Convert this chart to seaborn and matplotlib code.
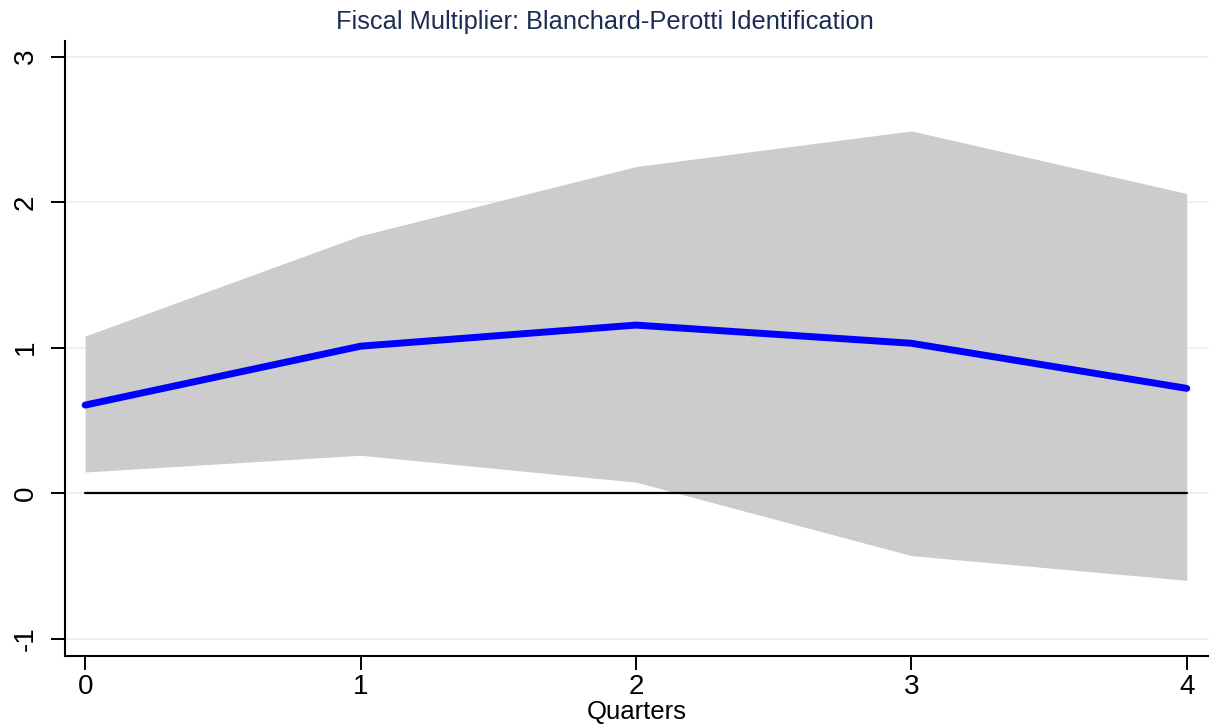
import matplotlib
matplotlib.use("Agg")
import matplotlib.pyplot as plt
import seaborn as sns
import pandas as pd

# Impulse response of output to a government spending shock
quarters = [0, 1, 2, 3, 4]
multiplier = [0.605, 1.01, 1.155, 1.03, 0.72]
upper_band = [1.08, 1.77, 2.245, 2.49, 2.06]
lower_band = [0.145, 0.26, 0.075, -0.43, -0.60]
y_ticks = [-1, 0, 1, 2, 3]

df = pd.DataFrame({"Quarters": quarters, "multiplier": multiplier,
                   "upper": upper_band, "lower": lower_band})

sns.set_theme(style="white")
plt.rcParams["font.family"] = ["Liberation Sans", "DejaVu Sans"]
plt.rcParams["text.color"] = "black"
plt.rcParams["xtick.color"] = "black"
plt.rcParams["ytick.color"] = "black"
plt.rcParams["axes.labelcolor"] = "black"

fig = plt.figure(figsize=(12.09, 7.25), dpi=100)
ax = fig.add_axes([0.0538, 0.0952, 0.946, 0.848])

for t in y_ticks:
    ax.axhline(t, color="#eaf2f3", lw=1.5, zorder=0)

ax.fill_between(df["Quarters"], df["lower"], df["upper"],
                color="#cccccc", lw=0, zorder=1)
ax.plot([quarters[0], quarters[-1]], [0, 0], color="black", lw=1.6, zorder=2)
sns.lineplot(data=df, x="Quarters", y="multiplier", color="#0000ff",
             lw=5, ax=ax, zorder=3, solid_capstyle="round")

ax.set_xlim(-0.073, 4.08)
ax.set_ylim(-1.12, 3.107)
ax.set_xticks(quarters)
ax.set_yticks(y_ticks)
ax.set_xticklabels([str(q) for q in quarters], fontsize=20)
ax.set_yticklabels([str(t) for t in y_ticks], fontsize=20, rotation=90,
                   va="center")
ax.tick_params(axis="both", direction="out", length=10, width=1.4,
               color="black", left=True, bottom=True)
ax.tick_params(axis="x", pad=3)
ax.tick_params(axis="y", pad=9)

for side in ["top", "right"]:
    ax.spines[side].set_visible(False)
for side in ["left", "bottom"]:
    ax.spines[side].set_color("black")
    ax.spines[side].set_linewidth(1.5)

ax.set_xlabel("Quarters", fontsize=18.5, labelpad=0)
ax.set_ylabel("")
fig.text(0.5, 0.969, "Fiscal Multiplier: Blanchard-Perotti Identification",
         fontsize=18.3, color="#1c2c52", ha="center", va="center")

fig.savefig("out.png", dpi=100, facecolor="white")
